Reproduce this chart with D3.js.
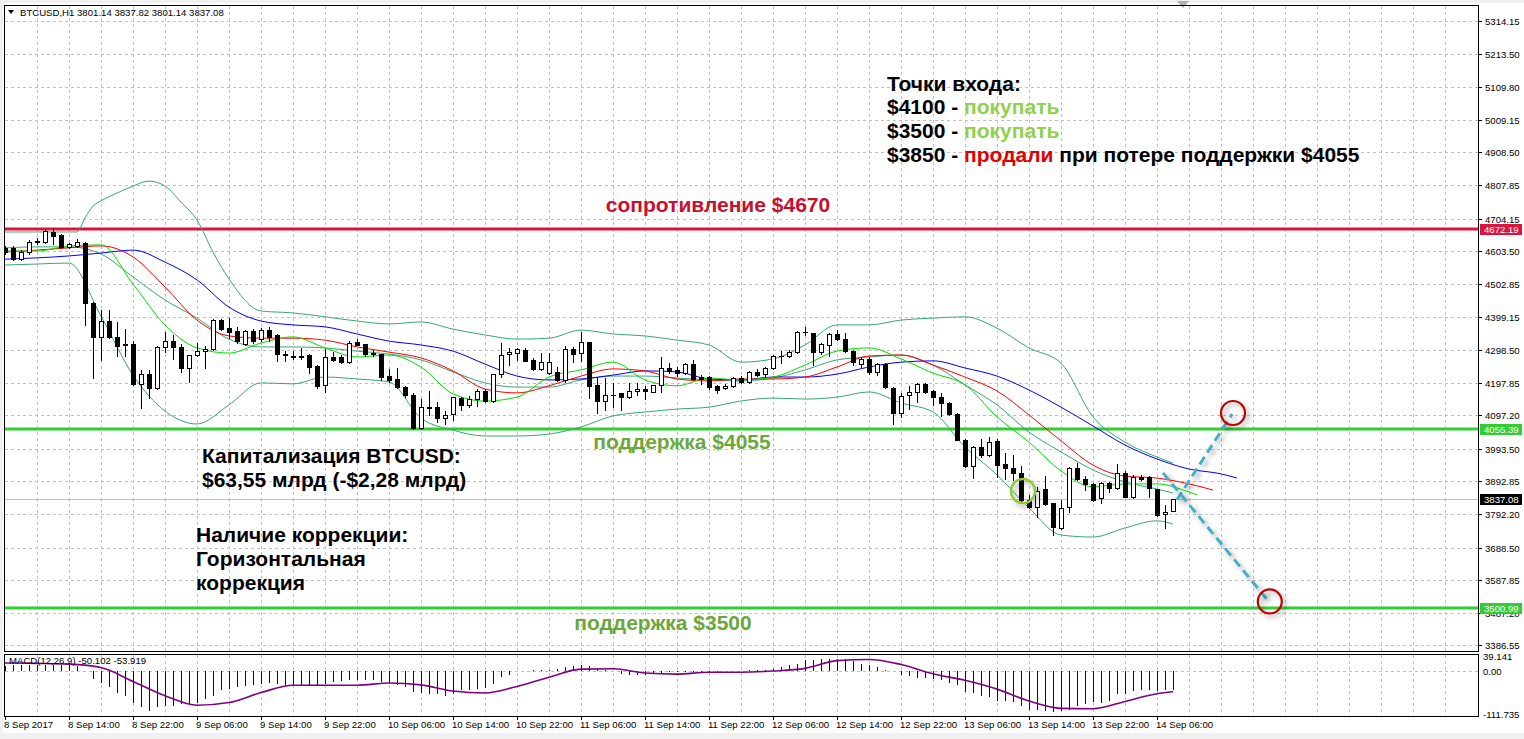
<!DOCTYPE html>
<html><head><meta charset="utf-8">
<script src="https://cdn.jsdelivr.net/npm/d3@7"></script>
<style>
html,body{margin:0;padding:0;background:#fff;overflow:hidden}
svg{display:block}
</style></head><body>
<svg id="c" width="1524" height="739"></svg>
<script>
// ---------- DATA ----------
const symbolTitle = "BTCUSD,H1  3801.14 3837.82 3801.14 3837.08";
const macdTitle = "MACD(12,26,9) -50.102 -53.919";
const timeLabels = ["8 Sep 2017","8 Sep 14:00","8 Sep 22:00","9 Sep 06:00","9 Sep 14:00","9 Sep 22:00",
  "10 Sep 06:00","10 Sep 14:00","10 Sep 22:00","11 Sep 06:00","11 Sep 14:00","11 Sep 22:00",
  "12 Sep 06:00","12 Sep 14:00","12 Sep 22:00","13 Sep 06:00","13 Sep 14:00","13 Sep 22:00","14 Sep 06:00"];
const timeLabelBars = [0,8,16,24,32,40,48,56,64,72,80,88,96,104,112,120,128,136,144];
const priceTicks = [5314.15,5213.50,5109.80,5009.15,4908.50,4807.85,4704.15,4603.50,4502.85,4399.15,
  4298.50,4197.85,4097.20,3993.50,3892.85,3792.20,3688.50,3587.85,3487.20,3386.55];
const macdTicks = [39.141, 0.00, -111.735];

const openP = [
4614,4614,4579,4601,4632,4632,4663,4654,4617,4620,
4629,4444,4339,4388,4339,4314,4317,4194,4224,4181,
4308,4326,4308,4243,4283,4295,4302,4391,4366,4357,
4317,4357,4332,4360,4345,4286,4280,4280,4283,4249,
4191,4277,4277,4261,4323,4317,4289,4286,4218,4209,
4184,4160,4058,4122,4122,4088,4101,4150,4129,4147,
4172,4141,4224,4286,4289,4299,4268,4240,4227,4231,
4206,4302,4289,4323,4191,4141,4160,4166,4153,4172,
4178,4169,4191,4243,4237,4227,4255,4215,4215,4187,
4181,4187,4212,4200,4231,4224,4243,4280,4280,4292,
4354,4351,4292,4314,4348,4332,4295,4255,4271,4231,
4255,4181,4104,4160,4169,4194,4172,4153,4135,4101,
4021,3940,3999,3974,4017,3946,3934,3919,3835,3814,
3869,3826,3749,3814,3934,3900,3885,3841,3888,3872,
3919,3844,3906,3906,3869,3792,3801.14];
const highP = [
4620,4620,4607,4638,4644,4672,4675,4657,4629,4641,
4632,4447,4422,4422,4385,4363,4326,4237,4237,4311,
4354,4345,4317,4283,4320,4311,4394,4394,4397,4369,
4360,4363,4366,4369,4348,4295,4295,4305,4286,4252,
4302,4292,4283,4326,4332,4317,4299,4286,4240,4243,
4187,4166,4147,4172,4138,4110,4153,4153,4157,4178,
4178,4224,4320,4305,4305,4305,4274,4289,4289,4246,
4311,4308,4354,4323,4212,4212,4197,4166,4197,4197,
4187,4191,4277,4258,4246,4258,4268,4221,4218,4191,
4194,4215,4218,4234,4240,4246,4283,4295,4299,4357,
4369,4351,4320,4351,4360,4351,4299,4277,4277,4258,
4258,4184,4166,4187,4197,4197,4175,4166,4138,4104,
4024,4002,4024,4030,4024,3980,3974,3940,3851,3875,
3909,3826,3835,3937,3949,3909,3888,3891,3891,3946,
3925,3912,3912,3909,3869,3820,3837.82];
const lowP = [
4595,4577,4577,4595,4626,4629,4626,4614,4614,4617,
4376,4212,4268,4336,4280,4280,4191,4119,4150,4178,
4292,4271,4231,4200,4280,4243,4299,4360,4336,4320,
4314,4320,4326,4326,4264,4264,4271,4271,4227,4181,
4169,4266,4258,4258,4314,4280,4280,4206,4200,4181,
4154,4055,4055,4098,4076,4070,4082,4113,4122,4126,
4138,4138,4215,4252,4268,4264,4237,4237,4224,4203,
4200,4261,4264,4150,4104,4113,4122,4113,4150,4160,
4147,4169,4169,4227,4218,4224,4206,4194,4178,4166,
4178,4184,4197,4197,4218,4218,4240,4258,4277,4289,
4345,4252,4286,4280,4329,4292,4252,4246,4224,4221,
4181,4070,4092,4116,4138,4166,4129,4095,4098,4021,
3937,3903,3968,3971,3906,3900,3897,3826,3811,3783,
3820,3727,3746,3798,3897,3866,3832,3826,3860,3869,
3844,3841,3897,3844,3786,3749,3801.14];
const closeP = [
4601,4579,4601,4632,4635,4666,4650,4617,4626,4632,
4444,4339,4388,4339,4311,4317,4194,4224,4181,4308,
4326,4308,4243,4283,4295,4302,4391,4363,4354,4326,
4357,4326,4360,4339,4286,4283,4278,4277,4246,4187,
4277,4268,4261,4320,4314,4286,4286,4215,4206,4184,
4160,4058,4122,4119,4088,4098,4153,4129,4147,4172,
4141,4224,4283,4292,4302,4264,4240,4261,4261,4206,
4302,4286,4323,4187,4141,4160,4159,4153,4172,4178,
4172,4191,4243,4234,4227,4255,4209,4209,4184,4175,
4187,4212,4200,4231,4221,4243,4280,4279,4292,4354,
4353,4292,4317,4348,4332,4295,4261,4271,4231,4255,
4184,4104,4157,4169,4194,4169,4153,4135,4101,4021,
3940,3999,3974,4014,3943,3934,3919,3835,3814,3863,
3823,3752,3811,3934,3900,3885,3835,3888,3872,3919,
3844,3906,3900,3872,3789,3798,3837.08];

// Bollinger bands
const bbUpperBars = [0,4,8,9,10,11,12,14,16,18,20,22,24,26,28,32,36,40,44,48,52,56,60,64,68,72,76,80,84,88,92,96,100,104,108,112,116,120,124,128,132,136,140,144,146];
const bbUpper = [4663,4663,4663,4663,4706,4743,4759,4783,4805,4820,4805,4755,4700,4601,4518,4419,4413,4401,4388,4379,4385,4363,4345,4332,4335,4360,4348,4342,4329,4314,4261,4271,4314,4376,4376,4391,4397,4401,4366,4305,4258,4092,4014,3968,3949];
const bbBars = [0,4,8,12,16,20,24,28,32,36,40,44,48,52,56,60,64,68,72,76,80,84,88,92,96,100,104,108,112,116,120,124,128,132,136,140,144,146];
const bbMiddle = [4614,4617,4617,4595,4524,4453,4397,4332,4308,4308,4305,4295,4286,4268,4231,4197,4184,4184,4206,4218,4218,4212,4206,4203,4212,4237,4268,4277,4283,4252,4191,4129,4045,3984,3928,3891,3869,3857];
const bbLower = [4561,4564,4567,4403,4221,4110,4070,4129,4197,4194,4215,4209,4200,4088,4051,4033,4033,4039,4061,4095,4107,4116,4122,4141,4150,4147,4153,4169,4135,4107,3999,3913,3811,3727,3721,3749,3771,3761];

// Alligator lines (shifted forward past the last bar)
const jawBars = [0,4,8,12,16,20,24,28,32,36,40,44,48,52,56,60,64,68,72,76,80,84,88,92,96,100,104,108,112,116,120,124,128,132,136,140,144,148,152,154];
const jawVals = [4579,4583,4589,4598,4607,4570,4515,4431,4388,4376,4370,4348,4326,4314,4295,4255,4218,4206,4209,4221,4234,4231,4209,4206,4215,4215,4224,4246,4261,4265,4243,4218,4175,4122,4064,4005,3962,3931,3916,3903];
const teethBars = [0,4,8,12,16,20,24,28,32,36,40,44,48,52,56,60,64,68,72,76,80,84,88,92,96,100,104,108,112,116,120,124,128,132,136,140,144,148,151];
const teethVals = [4601,4607,4614,4620,4586,4493,4391,4342,4335,4335,4329,4308,4292,4274,4234,4178,4166,4188,4218,4240,4234,4209,4203,4209,4209,4215,4246,4280,4283,4252,4215,4172,4098,4018,3943,3909,3903,3885,3866];
const lipsBars = [0,4,8,12,16,20,24,28,32,36,40,44,48,52,56,60,64,68,72,76,80,84,88,92,96,100,104,108,112,116,120,124,128,132,136,140,144,148,149];
const lipsVals = [4604,4604,4620,4623,4502,4376,4305,4289,4320,4339,4305,4277,4283,4246,4163,4141,4153,4215,4237,4261,4206,4188,4212,4206,4215,4252,4295,4305,4271,4227,4191,4092,4014,3925,3876,3885,3885,3860,3851];

// MACD
const macdHist = [
14,15,15,16,16,15,16,17,17,14,
1,-20,-31,-42,-57,-66,-84,-94,-103,-94,
-90,-90,-85,-85,-84,-72,-64,-50,-46,-42,
-39,-37,-33,-31,-33,-37,-37,-37,-37,-37,
-33,-29,-26,-24,-23,-23,-24,-29,-31,-37,
-42,-55,-57,-59,-61,-64,-59,-50,-49,-46,
-44,-33,-16,-10,0,1,3,3,4,6,
10,12,15,12,6,2,0,-7,-9,-11,
-11,-7,-4,-3,-3,-2,-3,-3,-2,-2,
-1,0,1,2,3,4,6,10,15,19,
28,30,32,32,32,32,26,19,15,10,
3,-1,-11,-14,-17,-17,-20,-24,-31,-37,
-55,-57,-66,-68,-77,-79,-81,-92,-101,-101,
-104,-107,-103,-101,-90,-85,-81,-84,-77,-61,
-61,-52,-49,-50,-52,-50,-50.102];
const sigBars = [0,4,8,12,16,20,24,28,32,36,40,44,48,52,56,60,64,68,72,76,80,84,88,92,96,100,104,108,112,116,120,124,128,132,136,140,144,146];
const macdSignal = [21,20,18,9,-27,-64,-89,-82,-56,-37,-37,-37,-31,-36,-52,-57,-40,-16,5,6,-5,-8,-3,-3,0,7,27,30,17,-7,-24,-47,-78,-97,-98,-79,-59,-53.919];

// Levels
const resistance = 4672.19, support1 = 4055.39, support2 = 3500.99, lastPrice = 3837.08;

// Drawn annotations (bar index, price)
const arrowUpBars = [146.5, 153.4], arrowUpPrices = [3836, 4101];
const arrowDownBars = [144.75, 157.9], arrowDownPrices = [3919, 3524];
const redCircleBars = [153.5, 158.1], redCirclePrices = [4104, 3522];
const greenCircleBar = 127.25, greenCirclePrice = 3863;

// ---------- DRAW ----------
const svg = d3.select('#c');
const L = 4, R = 1478, mT = 5, mB = 651, dT = 654, dB = 716;
const x = d3.scaleLinear().domain([0,146]).range([5,1173]);
const y = d3.scaleLinear().domain([3369.0, 5363.9]).range([mB, mT]);
const ym = d3.scaleLinear().domain([-111.735, 39.141]).range([714, 656]);
const font = "'Liberation Sans', Arial, sans-serif";
const px = v => Math.round(v) + 0.5;

const defs = svg.append('defs');
const f = defs.append('filter').attr('id','sh').attr('x','-50%').attr('y','-50%').attr('width','200%').attr('height','200%');
f.append('feDropShadow').attr('dx',3).attr('dy',3).attr('stdDeviation',2.5).attr('flood-color','#000').attr('flood-opacity',0.35);
defs.append('clipPath').attr('id','clipMain').append('rect').attr('x',L+1).attr('y',mT+1).attr('width',R-L-1).attr('height',mB-mT-1);
defs.append('clipPath').attr('id','clipMacd').append('rect').attr('x',L+1).attr('y',dT+1).attr('width',R-L-1).attr('height',dB-dT-1);

svg.append('rect').attr('width',1524).attr('height',739).attr('fill','#fff');
svg.append('rect').attr('x',0).attr('y',0).attr('width',1524).attr('height',3).attr('fill','#f0f0f0');
svg.append('rect').attr('x',0).attr('y',0).attr('width',3).attr('height',739).attr('fill','#f0f0f0');
svg.append('rect').attr('x',0).attr('y',733).attr('width',1524).attr('height',6).attr('fill','#f0f0f0');
svg.append('polygon').attr('points','1177,1 1189,1 1183,8').attr('fill','#b0b0b0');

// grids
const grid = svg.append('g').attr('stroke','#c0c0c0').attr('stroke-dasharray','3,3').attr('stroke-width',1);
d3.range(4, 184, 4).forEach(b => {
  const gx = px(x(b));
  if (gx < R) {
    grid.append('line').attr('x1',gx).attr('x2',gx).attr('y1',mT+1).attr('y2',mB);
    grid.append('line').attr('x1',gx).attr('x2',gx).attr('y1',dT+1).attr('y2',dB);
  }
});
priceTicks.forEach(t => {
  const gy = px(y(t));
  grid.append('line').attr('x1',L+1).attr('x2',R).attr('y1',gy).attr('y2',gy);
});
grid.append('line').attr('x1',L+1).attr('x2',R).attr('y1',px(ym(0))).attr('y2',px(ym(0)));

// current price line
svg.append('line').attr('x1',L+1).attr('x2',R).attr('y1',px(y(lastPrice))).attr('y2',px(y(lastPrice)))
  .attr('stroke','#c0c0c0').attr('stroke-width',1);

// level lines
[[resistance,'#dc143c'],[support1,'#32cd32'],[support2,'#32cd32']].forEach(([v,c]) => {
  svg.append('line').attr('x1',L+1).attr('x2',R).attr('y1',Math.round(y(v))).attr('y2',Math.round(y(v)))
    .attr('stroke',c).attr('stroke-width',3);
});

const main = svg.append('g').attr('clip-path','url(#clipMain)');
const lineGen = (bars, vals, sc) => d3.line().curve(d3.curveMonotoneX)(bars.map((b,i)=>[x(b), sc(vals[i])]));
const bbColor = '#3aa874';
main.append('path').attr('d', lineGen(bbUpperBars, bbUpper, y)).attr('fill','none').attr('stroke',bbColor).attr('stroke-width',1);
[bbMiddle, bbLower].forEach(vals => {
  main.append('path').attr('d', lineGen(bbBars, vals, y)).attr('fill','none').attr('stroke',bbColor).attr('stroke-width',1);
});
main.append('path').attr('d', lineGen(jawBars, jawVals, y)).attr('fill','none').attr('stroke','#0000ff').attr('stroke-width',1);
main.append('path').attr('d', lineGen(teethBars, teethVals, y)).attr('fill','none').attr('stroke','#ff0000').attr('stroke-width',1);
main.append('path').attr('d', lineGen(lipsBars, lipsVals, y)).attr('fill','none').attr('stroke','#00e000').attr('stroke-width',1);

// candles
const candles = main.append('g');
openP.forEach((o,i) => {
  const c = closeP[i], h = highP[i], l = lowP[i];
  const cx = Math.round(x(i));
  candles.append('line').attr('x1',cx+0.5).attr('x2',cx+0.5).attr('y1',Math.round(y(h))).attr('y2',Math.round(y(l))+1)
    .attr('stroke','#000').attr('stroke-width',1);
  const yt = Math.round(y(Math.max(o,c))), yb = Math.round(y(Math.min(o,c)));
  if (yb - yt < 1) {
    candles.append('line').attr('x1',cx-2).attr('x2',cx+3).attr('y1',yt+0.5).attr('y2',yt+0.5).attr('stroke','#000').attr('stroke-width',1);
  } else {
    candles.append('rect').attr('x',cx-1.5).attr('y',yt+0.5).attr('width',4).attr('height',yb-yt)
      .attr('fill', c >= o ? '#fff' : '#000').attr('stroke','#000').attr('stroke-width',1);
  }
});

// MACD
const macdG = svg.append('g').attr('clip-path','url(#clipMacd)');
macdHist.forEach((v,i) => {
  const cx = Math.round(x(i)) + 0.5;
  macdG.append('line').attr('x1',cx).attr('x2',cx).attr('y1',Math.round(ym(0))).attr('y2',Math.round(ym(v)))
    .attr('stroke','#000080').attr('stroke-width',1);
});
macdG.append('path').attr('d', lineGen(sigBars, macdSignal, ym)).attr('fill','none').attr('stroke','#800080').attr('stroke-width',1.6);

// panel borders
svg.append('rect').attr('x',L+0.5).attr('y',mT+0.5).attr('width',R-L).attr('height',mB-mT).attr('fill','none').attr('stroke','#000');
svg.append('rect').attr('x',L+0.5).attr('y',dT+0.5).attr('width',R-L).attr('height',dB-dT).attr('fill','none').attr('stroke','#000');

// price axis
const ax = svg.append('g').attr('font-family',font).attr('font-size','9.6px').attr('fill','#000');
priceTicks.forEach(t => {
  const ty = Math.round(y(t));
  ax.append('line').attr('x1',R).attr('x2',R+4).attr('y1',ty+0.5).attr('y2',ty+0.5).attr('stroke','#000');
  ax.append('text').attr('x',R+7).attr('y',ty+3.5).text(t.toFixed(2));
});
macdTicks.forEach(t => {
  ax.append('text').attr('x',R+5).attr('y',ym(t)+3.5).text(t === 0 ? '0.00' : String(t));
});
[[resistance,'#dc143c'],[support1,'#32cd32'],[support2,'#32cd32'],[lastPrice,'#000']].forEach(([v,c]) => {
  const ty = Math.round(y(v));
  ax.append('rect').attr('x',R+2).attr('y',ty-5).attr('width',42).attr('height',11).attr('fill',c);
  ax.append('text').attr('x',R+6).attr('y',ty+3.5).attr('fill','#fff').text(v.toFixed(2));
});

// time axis
timeLabelBars.forEach((b,i) => {
  const tx = Math.round(x(b));
  ax.append('line').attr('x1',tx+0.5).attr('x2',tx+0.5).attr('y1',dB).attr('y2',dB+4).attr('stroke','#000');
  ax.append('text').attr('x',tx-1).attr('y',728).text(timeLabels[i]);
});

// titles
svg.append('polygon').attr('points','8,10 14,10 11,14').attr('fill','#000');
svg.append('text').attr('x',20).attr('y',16).attr('font-family',font).attr('font-size','9.6px').text(symbolTitle);
svg.append('text').attr('x',9).attr('y',664).attr('font-family',font).attr('font-size','9.6px').text(macdTitle);

// annotations
const annoLine = (bs, ps) => d3.line()(bs.map((b,i)=>[x(b), y(ps[i])]));
[[arrowUpBars, arrowUpPrices],[arrowDownBars, arrowDownPrices]].forEach(([bs,ps]) => {
  svg.append('path').attr('d', annoLine(bs, ps)).attr('stroke','#4bacc6').attr('stroke-width',3)
    .attr('stroke-dasharray','9,5').attr('fill','none').attr('filter','url(#sh)');
});
redCircleBars.forEach((b,i) => {
  svg.append('circle').attr('cx',x(b)).attr('cy',y(redCirclePrices[i])).attr('r',12)
    .attr('fill','none').attr('stroke','#c00000').attr('stroke-width',2.2).attr('filter','url(#sh)');
});
svg.append('circle').attr('cx',x(greenCircleBar)).attr('cy',y(greenCirclePrice)).attr('r',12)
  .attr('fill','none').attr('stroke','#92c83e').attr('stroke-width',2.5).attr('filter','url(#sh)');

const ta = svg.append('g').attr('font-family',font).attr('font-size','21px').attr('font-weight','bold');
ta.append('text').attr('x',718).attr('y',212).attr('text-anchor','middle').attr('fill','#c8102e').text('сопротивление $4670');
ta.append('text').attr('x',682).attr('y',449).attr('text-anchor','middle').attr('fill','#6aa83c').text('поддержка $4055');
ta.append('text').attr('x',663).attr('y',630).attr('text-anchor','middle').attr('fill','#6aa83c').text('поддержка $3500');
ta.append('text').attr('x',202).attr('y',463).attr('fill','#000').text('Капитализация BTCUSD:');
ta.append('text').attr('x',202).attr('y',487).attr('fill','#000').text('$63,55 млрд (-$2,28 млрд)');
ta.append('text').attr('x',196).attr('y',542).attr('fill','#000').text('Наличие коррекции:');
ta.append('text').attr('x',196).attr('y',566).attr('fill','#000').text('Горизонтальная');
ta.append('text').attr('x',196).attr('y',590).attr('fill','#000').text('коррекция');
ta.append('text').attr('x',887).attr('y',91).attr('fill','#000').text('Точки входа:');
const e1 = ta.append('text').attr('x',887).attr('y',114).attr('fill','#000');
e1.append('tspan').text('$4100 - ');
e1.append('tspan').attr('fill','#92d050').text('покупать');
const e2 = ta.append('text').attr('x',887).attr('y',138).attr('fill','#000');
e2.append('tspan').text('$3500 - ');
e2.append('tspan').attr('fill','#92d050').text('покупать');
const e3 = ta.append('text').attr('x',887).attr('y',162).attr('fill','#000');
e3.append('tspan').text('$3850 - ');
e3.append('tspan').attr('fill','#e00000').text('продали');
e3.append('tspan').text(' при потере поддержки $4055');
</script>
</body></html>
